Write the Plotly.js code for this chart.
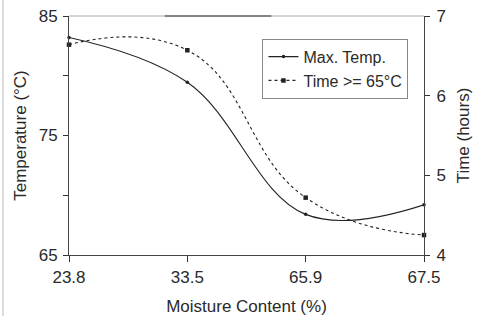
<!DOCTYPE html>
<html><head><meta charset="utf-8">
<script src="https://cdn.plot.ly/plotly-3.0.1.min.js"></script>
<style>html,body{margin:0;padding:0;background:#fff}</style>
</head><body>
<div id="chart" style="width:480px;height:316px"></div>
<script>
const categories = ["23.8", "33.5", "65.9", "67.5"];
const maxTemp = [83.2, 79.45, 68.4, 69.2];
const timeAbove65 = [6.64, 6.57, 4.72, 4.25];
const leftTicks = [65, 70, 75, 80, 85];
const leftTickText = ["65", "", "75", "", "85"];
const rightTicks = [4, 5, 6, 7];

const xIdx = categories.map((c, i) => i);
const font = {family: "Liberation Sans, Arial, sans-serif", color: "#2a2a2a"};
const f = (s) => Object.assign({size: s}, font);

const traces = [
  {x: xIdx, y: maxTemp, name: "Max. Temp.", type: "scatter", mode: "lines+markers",
   line: {color: "#222", width: 1.1, shape: "spline", smoothing: 1.1},
   marker: {symbol: "circle", size: 3.5, color: "#222"}, yaxis: "y", cliponaxis: false},
  {x: xIdx, y: timeAbove65, name: "Time >= 65°C", type: "scatter", mode: "lines+markers",
   line: {color: "#222", width: 1.1, dash: "dot", shape: "spline", smoothing: 1.3},
   marker: {symbol: "square", size: 4.5, color: "#222"}, yaxis: "y2", cliponaxis: false}
];

const layout = {
  width: 480, height: 316,
  margin: {l: 69, r: 56, t: 16, b: 61},
  paper_bgcolor: "#fff", plot_bgcolor: "#fff",
  font: f(17),
  showlegend: true,
  legend: {x: 0.545, y: 0.905, xanchor: "left", yanchor: "top",
           bgcolor: "rgba(255,255,255,0)", bordercolor: "#888", borderwidth: 1,
           font: f(16), itemwidth: 30, tracegroupgap: 0},
  xaxis: {range: [0, 3], tickvals: xIdx, ticktext: categories, showgrid: false, zeroline: false,
          showline: true, linecolor: "#444", linewidth: 1, ticks: "outside", ticklen: 6,
          ticklabelstandoff: 1, tickwidth: 1,
          tickcolor: "#333", tickfont: f(17),
          title: {text: "Moisture Content (%)", font: f(17), standoff: 14}},
  yaxis: {range: [65, 85], tickvals: leftTicks, ticktext: leftTickText, showgrid: false, zeroline: false,
          showline: true, linecolor: "#444", linewidth: 1, ticks: "outside", ticklen: 5,
          ticklabelstandoff: 2, tickwidth: 1,
          tickcolor: "#333", tickfont: f(17),
          title: {text: "Temperature (°C)", font: f(17), standoff: 7}},
  yaxis2: {range: [4, 7], tickvals: rightTicks, overlaying: "y", side: "right", showgrid: false,
           zeroline: false, showline: true, linecolor: "#444", linewidth: 1, ticks: "outside",
           ticklen: 5, ticklabelstandoff: 3, tickwidth: 1, tickcolor: "#333", tickfont: f(17),
           title: {text: "Time (hours)", font: f(17), standoff: 12}},
  shapes: [
    {type: "line", xref: "paper", yref: "paper", x0: 0, x1: 1, y0: 1, y1: 1,
     line: {color: "#aaa", width: 1}},
    {type: "line", xref: "paper", yref: "paper", x0: 0.27, x1: 0.57, y0: 1, y1: 1,
     line: {color: "#333", width: 1}},
    {type: "line", xref: "paper", yref: "paper", x0: -0.186, x1: -0.186, y0: -0.26, y1: 1.07,
     line: {color: "#bbb", width: 1}}
  ]
};

Plotly.newPlot("chart", traces, layout, {displayModeBar: false, staticPlot: true});
</script>
</body></html>
